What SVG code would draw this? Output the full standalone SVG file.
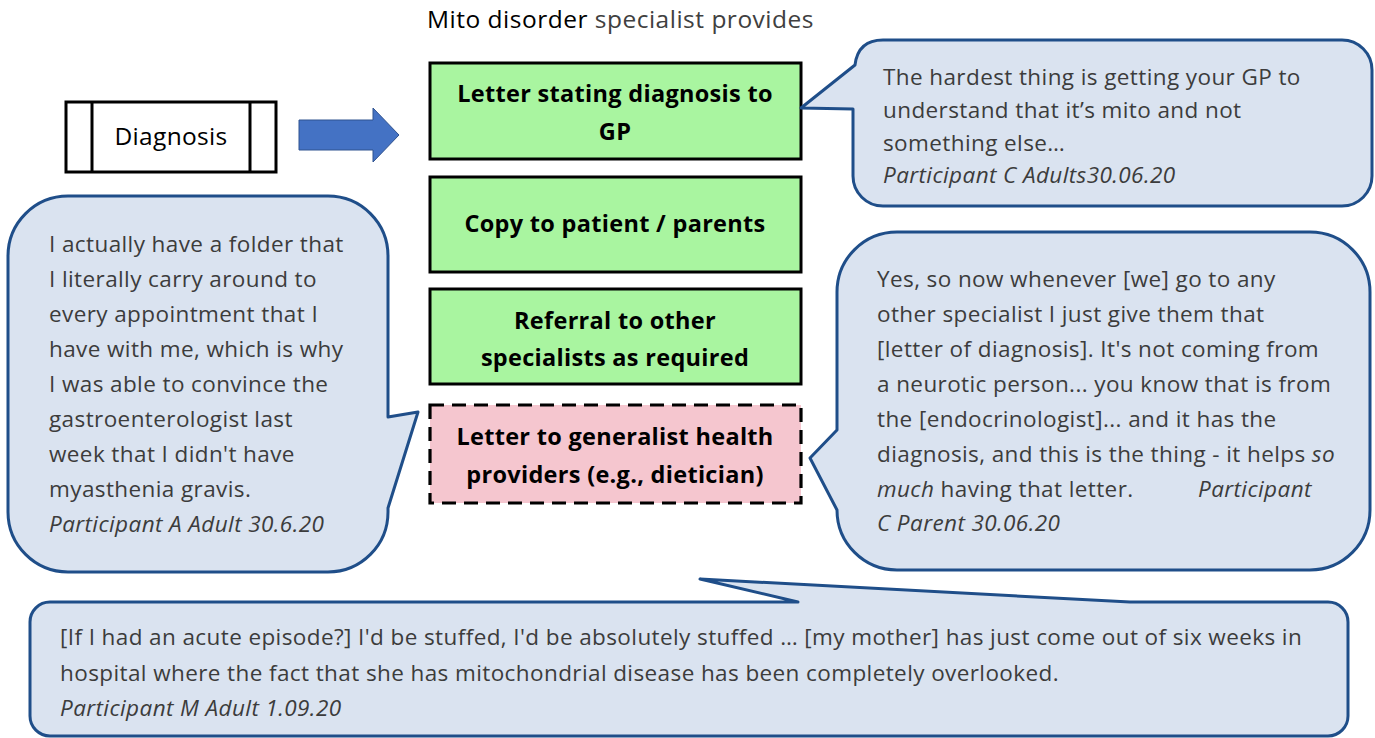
<svg xmlns="http://www.w3.org/2000/svg" width="1375" height="738" viewBox="0 0 1375 738">
  <style>
    text { font-family: "Open Sans", Lato, "Liberation Sans", sans-serif; }
    .title { font-size: 24.5px; letter-spacing: 0.5px; fill: #000; }
    .title .grey { fill: #404040; }
    .label { font-size: 23.5px; letter-spacing: 0.3px; font-weight: bold; fill: #000; text-anchor: middle; }
    .plain { font-size: 24.5px; letter-spacing: 0.3px; fill: #000; text-anchor: middle; }
    .quote { font-size: 22.5px; letter-spacing: 0.4px; fill: #3c3c3c; }
    .it { font-style: italic; }
    .box { fill: #a9f5a0; stroke: #000; stroke-width: 3; }
    .pink { fill: #f5c6cf; stroke: #000; stroke-width: 3.2; stroke-dasharray: 14 8; }
    .bubble { fill: #dae3f0; stroke: #1f4e89; stroke-width: 3; stroke-linejoin: round; }
  </style>

  <!-- heading -->
  <text class="title" x="427" y="28">Mito disorder <tspan class="grey">specialist provides</tspan></text>

  <!-- diagnosis node -->
  <g id="diagnosis">
    <rect x="66" y="102" width="210" height="70" fill="#fff" stroke="#000" stroke-width="3"/>
    <line x1="92" y1="102" x2="92" y2="172" stroke="#000" stroke-width="3"/>
    <line x1="250" y1="102" x2="250" y2="172" stroke="#000" stroke-width="3"/>
    <text class="plain" x="171" y="145">Diagnosis</text>
  </g>

  <!-- block arrow -->
  <g id="connectors">
    <path d="M299 120 H373 V108 L399 135 L373 162 V150 H299 Z" fill="#4472c4" stroke="#2f528f" stroke-width="1"/>
  </g>

  <!-- specialist outputs -->
  <g id="letter-gp">
    <rect class="box" x="430" y="63" width="371" height="96"/>
    <text class="label" x="615" y="102">Letter stating diagnosis to</text>
    <text class="label" x="615" y="140">GP</text>
  </g>
  <g id="copy-patient">
    <rect class="box" x="430" y="177" width="371" height="95"/>
    <text class="label" x="615" y="232">Copy to patient / parents</text>
  </g>
  <g id="referral">
    <rect class="box" x="430" y="289" width="371" height="95"/>
    <text class="label" x="615" y="329">Referral to other</text>
    <text class="label" x="615" y="366">specialists as required</text>
  </g>
  <g id="letter-generalist">
    <rect class="pink" x="430" y="405" width="371" height="98"/>
    <text class="label" x="615" y="445">Letter to generalist health</text>
    <text class="label" x="615" y="483">providers (e.g., dietician)</text>
  </g>

  <!-- quote callouts -->
  <g id="quote-gp">
    <path class="bubble" d="M883 40 H1342 A30 30 0 0 1 1372 70 V176 A30 30 0 0 1 1342 206 H883 A30 30 0 0 1 853 176 V109 L801 108 L855 65 Q858 40 883 40 Z"/>
    <text class="quote" x="883" y="85">The hardest thing is getting your GP to</text>
    <text class="quote" x="883" y="118">understand that it’s mito and not</text>
    <text class="quote" x="883" y="151">something else…</text>
    <text class="quote it" x="883" y="183">Participant C Adults30.06.20</text>
  </g>

  <g id="quote-folder">
    <path class="bubble" d="M68 196 H328 A60 60 0 0 1 388 256 V417 L418 412 L388 508 V512 A60 60 0 0 1 328 572 H68 A60 60 0 0 1 8 512 V256 A60 60 0 0 1 68 196 Z"/>
    <text class="quote" x="49" y="252">I actually have a folder that</text>
    <text class="quote" x="49" y="287">I literally carry around to</text>
    <text class="quote" x="49" y="322">every appointment that I</text>
    <text class="quote" x="49" y="357">have with me, which is why</text>
    <text class="quote" x="49" y="392">I was able to convince the</text>
    <text class="quote" x="49" y="427">gastroenterologist last</text>
    <text class="quote" x="49" y="462">week that I didn't have</text>
    <text class="quote" x="49" y="497">myasthenia gravis.</text>
    <text class="quote it" x="49" y="532">Participant A Adult 30.6.20</text>
  </g>

  <g id="quote-letter">
    <path class="bubble" d="M897 232 H1310 A60 60 0 0 1 1370 292 V510 A60 60 0 0 1 1310 570 H897 A60 60 0 0 1 837 510 L810 458 L837 430 V292 A60 60 0 0 1 897 232 Z"/>
    <text class="quote" x="877" y="287">Yes, so now whenever [we] go to any</text>
    <text class="quote" x="877" y="322">other specialist I just give them that</text>
    <text class="quote" x="877" y="357">[letter of diagnosis]. It's not coming from</text>
    <text class="quote" x="877" y="392">a neurotic person... you know that is from</text>
    <text class="quote" x="877" y="427">the [endocrinologist]... and it has the</text>
    <text class="quote" x="877" y="462">diagnosis, and this is the thing - it helps <tspan class="it">so</tspan></text>
    <text class="quote" x="877" y="497"><tspan class="it">much</tspan> having that letter.</text>
    <text class="quote it" x="1198" y="497">Participant</text>
    <text class="quote it" x="877" y="531">C Parent 30.06.20</text>
  </g>

  <g id="quote-hospital">
    <path class="bubble" d="M50 602 H798 L700 579 L1130 602 H1328 A20 20 0 0 1 1348 622 V716 A20 20 0 0 1 1328 736 H50 A20 20 0 0 1 30 716 V622 A20 20 0 0 1 50 602 Z"/>
    <text class="quote" x="60" y="645">[If I had an acute episode?] I'd be stuffed, I'd be absolutely stuffed … [my mother] has just come out of six weeks in</text>
    <text class="quote" x="60" y="681">hospital where the fact that she has mitochondrial disease has been completely overlooked.</text>
    <text class="quote it" x="60" y="716">Participant M Adult 1.09.20</text>
  </g>
</svg>
